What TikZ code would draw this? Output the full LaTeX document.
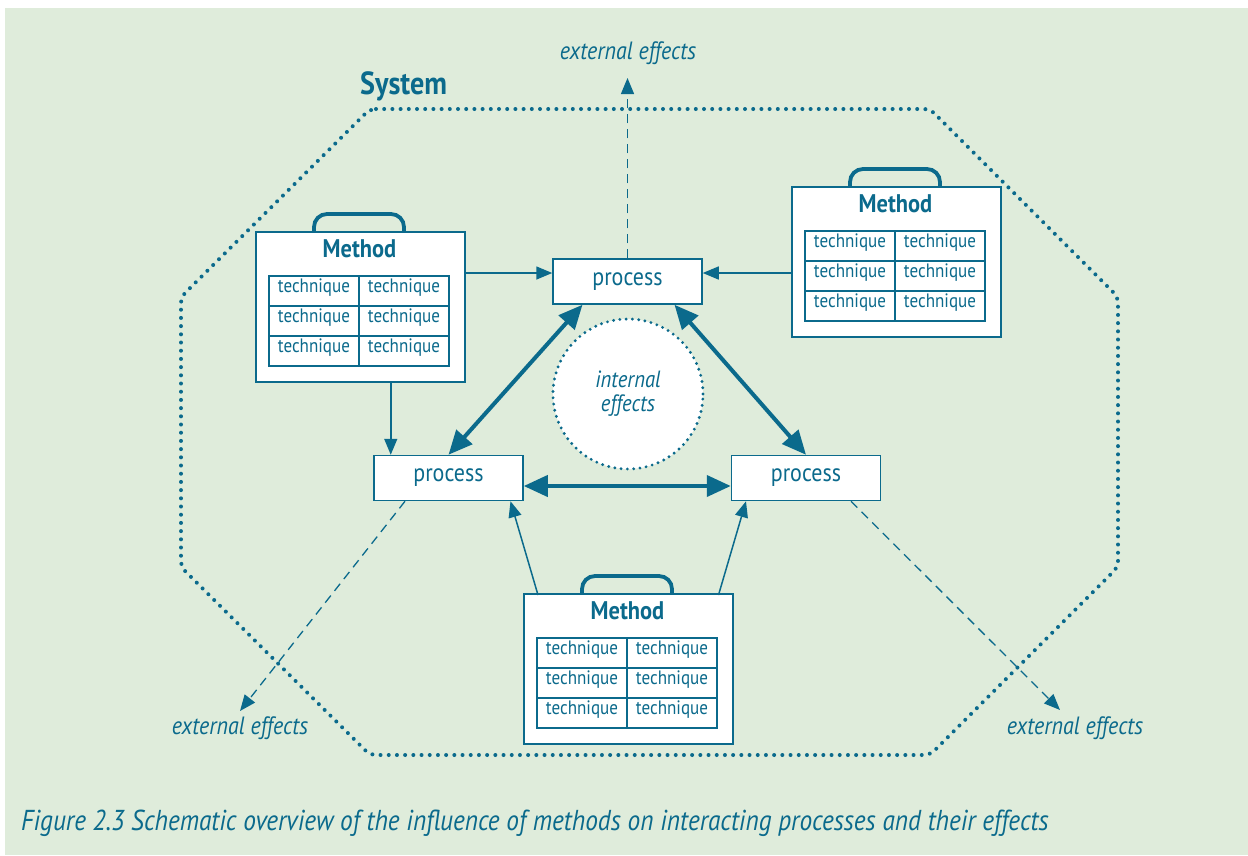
\documentclass[tikz,border=0pt]{standalone}
\usepackage{fontspec}
\setmainfont{PT Sans}[FakeStretch=0.88]
\usetikzlibrary{arrows.meta,calc}
\definecolor{teal2}{HTML}{0B6A8C}
\definecolor{bg}{HTML}{DFECDB}
\tikzset{
  mbox/.style={draw=teal2, fill=white, line width=1.5pt, minimum width=209pt, minimum height=150pt, inner sep=0pt},
  mtitle/.style={text=teal2, font=\fontsize{25.5}{28}\selectfont\bfseries, inner sep=0pt},
  tech/.style={text=teal2, font=\fontsize{19.4}{21}\selectfont, inner sep=0pt, anchor=base},
  proc/.style={draw=teal2, fill=white, line width=1.5pt, minimum width=149pt, minimum height=45pt, inner sep=0pt, text=teal2, font=\fontsize{25}{27}\selectfont},
  ext/.style={text=teal2, font=\fontsize{25}{27}\selectfont\itshape, inner sep=0pt},
  thin/.style={draw=teal2, line width=1.5pt, -{Triangle[length=16pt,width=13pt]}},
  thick/.style={draw=teal2, line width=4pt, {Triangle[length=24pt,width=21pt]}-{Triangle[length=24pt,width=21pt]}},
  dashline/.style={draw=teal2, line width=1.3pt, dash pattern=on 9pt off 6pt, -{Triangle[length=16pt,width=13pt]}},
}
\newcommand\methodbox[3]{%
  \draw[teal2, line width=3.8pt, rounded corners=13pt] (#2+59,#3+2) -- (#2+59,#3-17) -- (#2+149,#3-17) -- (#2+149,#3+2);
  \node[mbox, anchor=north west] (#1) at (#2,#3) {};
  \node[mtitle] (#1t) at (#2+104.5,#3+18) {Method};
  \draw[teal2, line width=1.5pt] (#2+14,#3+45) rectangle (#2+194,#3+135);
  \draw[teal2, line width=1.5pt] (#2+14,#3+75) -- (#2+194,#3+75) (#2+14,#3+105) -- (#2+194,#3+105) (#2+104,#3+45) -- (#2+104,#3+135);
  \foreach \r in {0,1,2}{\foreach \c in {0,1}{%
    \node[tech] (#1-\r-\c) at (#2+59+90*\c,#3+61+30*\r) {technique};}}%
}
\begin{document}
\begin{tikzpicture}[x=1pt,y=-1pt]
\useasboundingbox (0,0) rectangle (1248,855);
\fill[bg] (5,8) rectangle (1248,855);
% system octagon
\draw[teal2, line width=4pt, dash pattern=on 0pt off 8.2pt, line cap=round, rounded corners=6pt]
  (370,109) -- (930,109) -- (1118,297) -- (1118,567) -- (930,755) -- (370,755) -- (181,567) -- (181,297) -- cycle;
\node[text=teal2, font=\fontsize{32}{35}\selectfont\bfseries, anchor=west, inner sep=0pt] (sys) at (360,86) {System};
% internal effects
\node[circle, draw=teal2, fill=white, line width=3.2pt, dash pattern=on 0pt off 6.3pt, line cap=round, minimum size=150pt, inner sep=0pt, align=center, text=teal2, font=\fontsize{23.5}{24}\selectfont\itshape] (ie) at (628,394) {internal\\effects};
% processes
\node[proc] (pT) at (627.5,281.5) {process};
\node[proc] (pL) at (448.5,478) {process};
\node[proc] (pR) at (806,478) {process};
% methods
\methodbox{mL}{255}{231}
\methodbox{mR}{791}{186}
\methodbox{mB}{523}{593}
% external labels
\coordinate (eT) at (627.5,78);
\coordinate (eL) at (240,711);
\coordinate (eR) at (1060,710);
\node[ext] (tT) at (628,53) {external effects};
\node[ext] (tL) at (240,728) {external effects};
\node[ext] (tR) at (1075,728) {external effects};
\draw[dashline] (pT.north) -- (eT);
\draw[dashline] ([xshift=-43.5pt]pL.south) -- (eL);
\draw[dashline] ([xshift=45pt]pR.south) -- (eR);
% thin arrows
\draw[thin] ([yshift=8.5pt]pT.west -| mL.east) -- ([yshift=8.5pt]pT.west);
\draw[thin] ([yshift=8.5pt]pT.east -| mR.west) -- ([yshift=8.5pt]pT.east);
\draw[thin] ([xshift=30.5pt]mL.south) -- ([xshift=30.5pt]mL.south |- pL.north);
\draw[thin] ([xshift=15pt,yshift=-2pt]mB.north west) -- ([xshift=62pt]pL.south);
\draw[thin] ([xshift=-15pt,yshift=-2pt]mB.north east) -- ([xshift=-60pt]pR.south);
% thick arrows
\draw[thick] ([xshift=-45pt]pT.south) -- (pL.north);
\draw[thick] ([xshift=47pt]pT.south) -- (pR.north);
\draw[thick] ([yshift=-8pt]pL.east) -- ([yshift=-8pt]pR.west);
% caption
\node[text=teal2, font=\fontsize{28.8}{31}\selectfont\itshape, anchor=base west, inner sep=0pt] (cap) at (21,830) {Figure 2.3 Schematic overview of the influence of methods on interacting processes and their effects};
\end{tikzpicture}
\end{document}
